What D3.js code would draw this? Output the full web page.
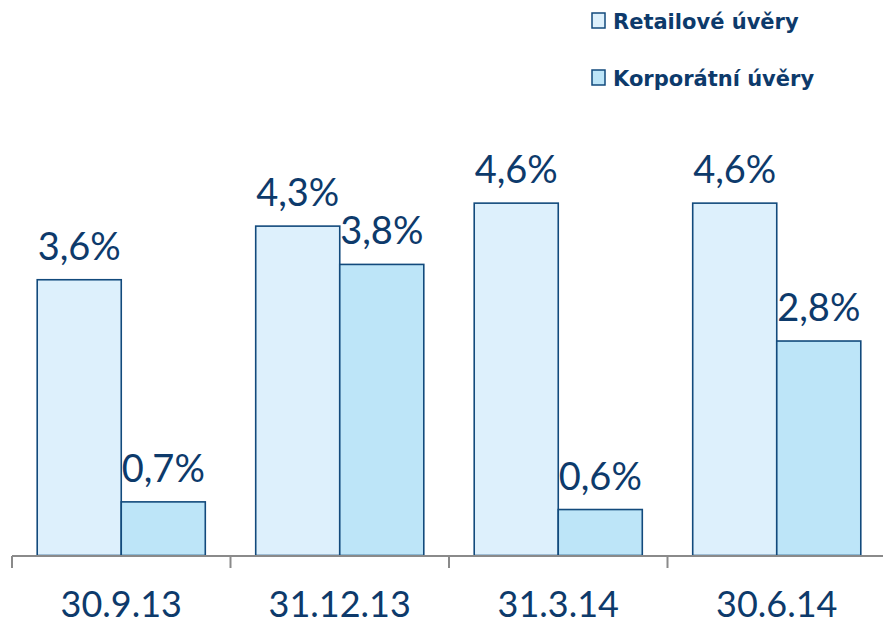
<!DOCTYPE html>
<html>
<head>
<meta charset="utf-8">
<script src="https://cdn.jsdelivr.net/npm/d3@7"></script>
<style>
  html, body { margin: 0; padding: 0; background: #fff; }
  svg { display: block; }
  text { font-family: "Lato", "Open Sans", sans-serif; fill: #0d3a6b; }
</style>
</head>
<body>
<svg id="chart" width="883" height="626"></svg>
<script>
// Quarter-end dates
const categories = ["30.9.13", "31.12.13", "31.3.14", "30.6.14"];
// Series names
const seriesNames = ["Retailové úvěry", "Korporátní úvěry"];
// Values in percent
const retail = [3.6, 4.3, 4.6, 4.6];
const corporate = [0.7, 3.8, 0.6, 2.8];

const colors = ["#ddf0fc", "#bde5f8"];
const strokeColor = "#124a7c";

const svg = d3.select("#chart");
const baseline = 555.5;
const step = 218.5;

const x = d3.scaleBand()
  .domain(categories)
  .range([12, 12 + step * categories.length])
  .padding(0);

// Two bars per date, centred in each band with a margin on both sides
const x1 = d3.scaleBand()
  .domain(seriesNames)
  .range([0, step])
  .paddingInner(0)
  .paddingOuter(0.3);

const y = d3.scaleLinear().domain([0, 5]).range([baseline, baseline - 5 * 76.6]);

const data = categories.map((c, i) => ({
  cat: c,
  values: [
    { name: seriesNames[0], v: retail[i], color: colors[0] },
    { name: seriesNames[1], v: corporate[i], color: colors[1] }
  ]
}));

const groups = svg.selectAll("g.grp").data(data).join("g")
  .attr("class", "grp")
  .attr("transform", d => `translate(${x(d.cat)},0)`);

groups.selectAll("rect").data(d => d.values).join("rect")
  .attr("x", d => x1(d.name))
  .attr("y", d => y(d.v))
  .attr("width", x1.bandwidth())
  .attr("height", d => baseline - y(d.v))
  .attr("fill", d => d.color)
  .attr("stroke", strokeColor)
  .attr("stroke-width", 1.6);

groups.selectAll("text.val").data(d => d.values).join("text")
  .attr("class", "val")
  .attr("x", d => x1(d.name) + x1.bandwidth() / 2)
  .attr("y", d => y(d.v) - 20)
  .attr("text-anchor", "middle")
  .style("font-size", "38px")
  .text(d => d.v.toFixed(1).replace(".", ",") + "%");

// Category axis
const axisG = svg.append("g").attr("transform", `translate(0,${baseline + 0.5})`);
axisG.append("line")
  .attr("x1", 12).attr("x2", 883)
  .attr("y1", 0).attr("y2", 0)
  .attr("stroke", "#8a8a8a").attr("stroke-width", 2);
const tickXs = categories.map(c => x(c));
axisG.selectAll("line.tick").data(tickXs).join("line")
  .attr("class", "tick")
  .attr("x1", d => d).attr("x2", d => d)
  .attr("y1", 0).attr("y2", 12)
  .attr("stroke", "#8a8a8a").attr("stroke-width", 2);
axisG.selectAll("text.cat").data(categories).join("text")
  .attr("class", "cat")
  .attr("x", d => x(d) + x.bandwidth() / 2)
  .attr("y", 61)
  .attr("text-anchor", "middle")
  .style("font-size", "36px")
  .text(d => d);

// Legend
const legend = svg.append("g");
const legendRows = legend.selectAll("g").data(seriesNames).join("g")
  .attr("transform", (d, i) => `translate(592,${13 + i * 57})`);
legendRows.append("rect")
  .attr("width", 13).attr("height", 15)
  .attr("fill", (d, i) => colors[i])
  .attr("stroke", strokeColor).attr("stroke-width", 1.5);
legendRows.append("text")
  .attr("x", 21).attr("y", 16)
  .style("font-family", "'DejaVu Sans', sans-serif")
  .style("font-size", "21px")
  .style("font-weight", "bold")
  .text(d => d);
</script>
</body>
</html>
